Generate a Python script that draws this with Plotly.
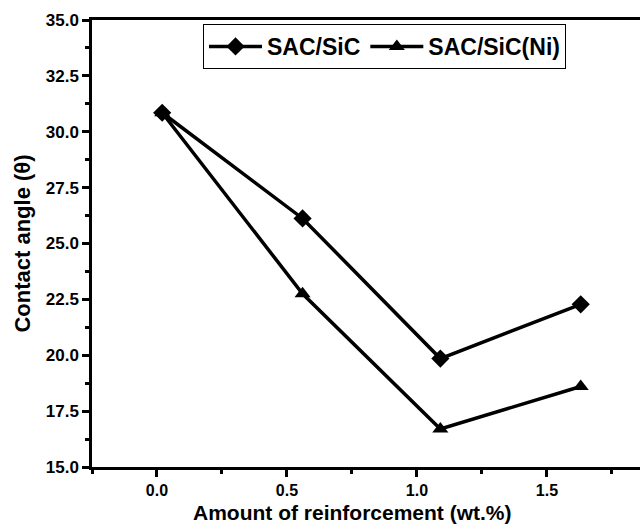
import plotly.graph_objects as go

# Contact angle vs. reinforcement content
reinforcement_sic = [0.02, 0.56, 1.09, 1.63]
angle_sic = [30.85, 26.12, 19.85, 22.28]

reinforcement_sic_ni = [0.02, 0.56, 1.09, 1.63]
angle_sic_ni = [30.85, 22.75, 16.7, 18.6]

x_ticks = [0.0, 0.5, 1.0, 1.5]
y_ticks = [15.0, 17.5, 20.0, 22.5, 25.0, 27.5, 30.0, 32.5, 35.0]

FONT = "Liberation Sans, Arial, sans-serif"

fig = go.Figure()
fig.add_trace(go.Scatter(
    x=reinforcement_sic, y=angle_sic, name="SAC/SiC",
    mode="lines+markers",
    line=dict(color="black", width=3.5),
    marker=dict(symbol="diamond", size=14, color="black"),
))
fig.add_trace(go.Scatter(
    x=reinforcement_sic_ni, y=angle_sic_ni, name="SAC/SiC(Ni)",
    mode="lines+markers",
    line=dict(color="black", width=3.5),
    marker=dict(symbol="triangle-up", size=14, color="black"),
))

axis_common = dict(
    showline=True, linecolor="black", linewidth=2.5,
    ticks="outside", ticklen=7, tickwidth=2.5, tickcolor="black",
    showgrid=False, zeroline=False,
)

fig.update_layout(
    width=640, height=527,
    margin=dict(l=92, r=0, t=20, b=60),
    plot_bgcolor="white", paper_bgcolor="white",
    showlegend=True,
    legend=dict(
        orientation="h", x=0.2026, y=0.991, xanchor="left", yanchor="top",
        bordercolor="black", borderwidth=1, bgcolor="white",
        font=dict(family=FONT, size=23, color="black", weight="bold"),
        itemwidth=53, tracegroupgap=0,
    ),
    xaxis=dict(
        **axis_common,
        range=[-0.25, 1.858], tickvals=x_ticks,
        ticktext=[f"{v:.1f}" for v in x_ticks],
        tickfont=dict(family=FONT, size=16, color="black", weight="bold"),
        mirror=True,
        minor=dict(dtick=0.25, tick0=0, ticks="outside", ticklen=4, tickwidth=2.5, tickcolor="black"),
    ),
    yaxis=dict(
        **axis_common,
        range=[15, 35], tickvals=y_ticks,
        ticktext=[f"{v:.1f}" for v in y_ticks],
        tickfont=dict(family=FONT, size=17, color="black", weight="bold"),
        minor=dict(dtick=1.25, tick0=15, ticks="outside", ticklen=4, tickwidth=2.5, tickcolor="black"),
        title=dict(text="Contact angle (θ)", standoff=10,
                   font=dict(family=FONT, size=22, color="black", weight="bold")),
    ),
)

# x-axis title, centred on the original frame width
fig.add_annotation(
    text="Amount of reinforcement (wt.%)",
    xref="paper", yref="paper", x=0.4745, y=-0.072,
    xanchor="center", yanchor="top", showarrow=False,
    font=dict(family=FONT, size=21, color="black", weight="bold"),
)

fig.write_html("out.html")
